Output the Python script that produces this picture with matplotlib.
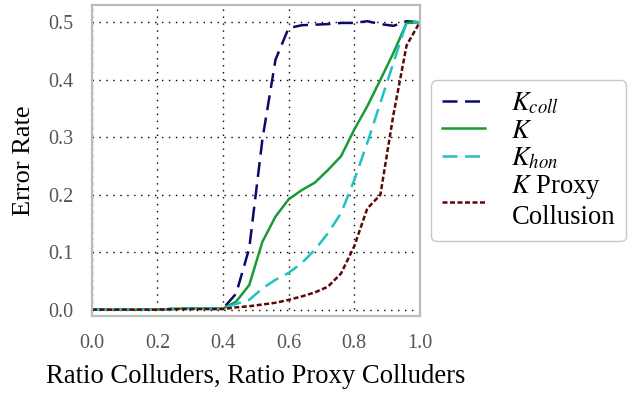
import matplotlib
matplotlib.use("Agg")
import matplotlib.pyplot as plt

plt.rcParams['font.family'] = ['Liberation Serif', 'DejaVu Serif']
plt.rcParams['mathtext.fontset'] = 'stix'

x = [0.00, 0.04, 0.08, 0.12, 0.16, 0.20, 0.24, 0.28, 0.32, 0.36,
     0.40, 0.44, 0.48, 0.52, 0.56, 0.60, 0.64, 0.68, 0.72, 0.76,
     0.80, 0.84, 0.88, 0.92, 0.96, 1.00]
k_coll = [0.0, 0.0, 0.0, 0.0, 0.0, 0.0, 0.001, 0.002, 0.002, 0.002,
          0.002, 0.028, 0.107, 0.296, 0.435, 0.490, 0.495, 0.496, 0.497, 0.499,
          0.499, 0.502, 0.497, 0.494, 0.502, 0.500]
k = [0.0, 0.0, 0.0, 0.0, 0.0, 0.0, 0.001, 0.002, 0.002, 0.002,
     0.002, 0.014, 0.043, 0.118, 0.162, 0.192, 0.208, 0.221, 0.243, 0.267,
     0.313, 0.354, 0.400, 0.447, 0.499, 0.500]
k_hon = [0.0, 0.0, 0.0, 0.0, 0.0, 0.0, 0.001, 0.002, 0.002, 0.002,
         0.002, 0.010, 0.017, 0.037, 0.052, 0.064, 0.081, 0.104, 0.133, 0.168,
         0.225, 0.290, 0.360, 0.430, 0.500, 0.500]
k_proxy = [0.0, 0.0, 0.0, 0.0, 0.0, 0.0, 0.001, 0.001, 0.001, 0.001,
           0.001, 0.004, 0.006, 0.009, 0.012, 0.017, 0.023, 0.030, 0.040, 0.063,
           0.110, 0.176, 0.200, 0.340, 0.460, 0.500]

labels = ['$K_{coll}$', '$K$', '$K_{hon}$', '$K$ Proxy\nCollusion']
xticks = [0.0, 0.2, 0.4, 0.6, 0.8, 1.0]
yticks = [0.0, 0.1, 0.2, 0.3, 0.4, 0.5]

fig = plt.figure(figsize=(6.34, 3.94), dpi=100)
ax = fig.add_axes([0.145, 0.198, 0.517, 0.789])

ax.plot(x, k_coll, color='#0a0a6e', lw=1.8, dashes=(6, 3), label=labels[0])
ax.plot(x, k, color='#1a9a35', lw=1.8, label=labels[1])
ax.plot(x, k_hon, color='#1cc3c3', lw=1.8, dashes=(6, 3), label=labels[2])
ax.plot(x, k_proxy, color='#5a0808', lw=1.8, dashes=(2, 1), label=labels[3])

ax.set_xlim(0, 1.0)
ax.set_ylim(-0.011, 0.53)
ax.set_xticks(xticks)
ax.set_yticks(yticks)
ax.set_xticklabels([f'{v:.1f}' for v in xticks])
ax.set_yticklabels([f'{v:.1f}' for v in yticks])
ax.grid(True, color='black', linestyle=(0, (1, 4)), linewidth=1.0)
ax.tick_params(length=0, pad=13, labelsize=14.5, labelcolor='#555555')
for s in ax.spines.values():
    s.set_color('#bbbbbb')
    s.set_linewidth(1.6)

ax.set_xlabel('Ratio Colluders, Ratio Proxy Colluders', fontsize=19.2, labelpad=8)
ax.set_ylabel('Error Rate', fontsize=19, labelpad=10)

leg = ax.legend(loc='center left', bbox_to_anchor=(0.995, 0.5), fontsize=19.2,
                handlelength=1.6, labelspacing=0.08, frameon=True, fancybox=True,
                borderpad=0.4, handletextpad=1.0)
leg.get_frame().set_edgecolor('#bbbbbb')
leg.get_frame().set_linewidth(1.0)

fig.savefig('out.png', dpi=100)
